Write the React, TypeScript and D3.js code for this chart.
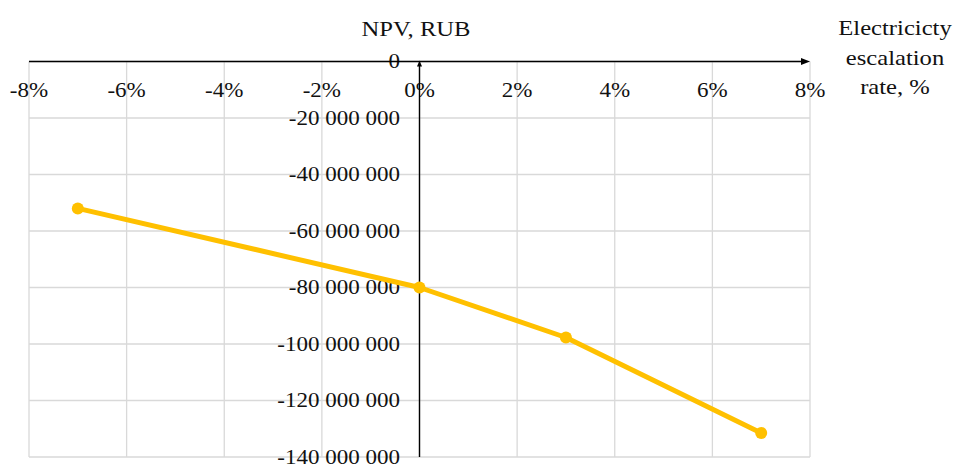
import React from "react";
import * as d3 from "d3";

const rates = [-0.07, 0.0, 0.03, 0.07];
const npv = [-52000000, -80000000, -97700000, -131500000];
const xTicks = [-0.08, -0.06, -0.04, -0.02, 0, 0.02, 0.04, 0.06, 0.08];
const yTicks = [0, -20000000, -40000000, -60000000, -80000000, -100000000, -120000000, -140000000];
const yTitle = "NPV, RUB";
const xTitleLines = ["Electricicty", "escalation", "rate, %"];

const W = 960;
const H = 466;

const fmtY = (v: number) => {
  if (v === 0) return "0";
  const s = Math.abs(v).toString().replace(/\B(?=(\d{3})+(?!\d))/g, " ");
  return "-" + s;
};
const fmtX = (v: number) => `${Math.round(v * 100)}%`;

export default function App() {
  const x = d3.scaleLinear().domain([-0.08, 0.08]).range([29, 810]);
  const y = d3.scaleLinear().domain([-140000000, 0]).range([457, 61.5]);
  const line = d3
    .line<number>()
    .x((_, i) => x(rates[i]))
    .y((d) => y(d));
  const font = "'Liberation Serif', 'Times New Roman', serif";
  const T = (props: { x: number; y: number; size: number; sx: number; anchor: string; children: React.ReactNode; dy?: string }) => (
    <text
      transform={`translate(${props.x},${props.y}) scale(${props.sx},1)`}
      fontSize={props.size}
      textAnchor={props.anchor as any}
      dy={props.dy}
      fill="#111"
      fontFamily={font}
    >
      {props.children}
    </text>
  );
  return (
    <svg width={W} height={H} style={{ position: "absolute", left: 0, top: 0, background: "#fff" }}>
      <rect width={W} height={H} fill="#fff" />
      {/* grid */}
      {xTicks.map((t) => (
        <line key={"gx" + t} x1={x(t)} x2={x(t)} y1={y(0)} y2={y(-140000000)} stroke="#d9d9d9" strokeWidth={1.3} />
      ))}
      {yTicks.map((t) => (
        <line key={"gy" + t} x1={x(-0.08)} x2={x(0.08)} y1={y(t)} y2={y(t)} stroke="#d9d9d9" strokeWidth={1.3} />
      ))}
      {/* x tick labels */}
      {xTicks.map((t) => (
        <T key={"lx" + t} x={x(t)} y={96.5} size={20} sx={1.15} anchor="middle">
          {fmtX(t)}
        </T>
      ))}
      {/* y tick labels */}
      {yTicks.map((t) => (
        <T key={"ly" + t} x={400} y={y(t)} size={20} sx={1.15} anchor="end" dy="0.34em">
          {fmtY(t)}
        </T>
      ))}
      {/* axes */}
      <line x1={x(-0.08)} x2={x(0.08) - 4} y1={y(0)} y2={y(0)} stroke="#000" strokeWidth={1.6} />
      <path d={`M${x(0.08)},${y(0)} l-9,-3.5 l0,7 z`} fill="#000" />
      <line x1={x(0)} x2={x(0)} y1={y(0) + 3} y2={y(-140000000)} stroke="#000" strokeWidth={1.4} />
      <path d={`M${x(0)},${y(0) - 1} l-2.5,6 l5,0 z`} fill="#000" />
      {/* series */}
      <path d={line(npv) || ""} fill="none" stroke="#FFC000" strokeWidth={5} strokeLinejoin="round" />
      {npv.map((v, i) => (
        <circle key={"p" + i} cx={x(rates[i])} cy={y(v)} r={6} fill="#FFC000" />
      ))}
      {/* titles */}
      <T x={416} y={36} size={22} sx={1.12} anchor="middle">
        {yTitle}
      </T>
      {xTitleLines.map((s, i) => (
        <T key={s} x={895} y={35 + i * 29.5} size={22} sx={1.12} anchor="middle">
          {s}
        </T>
      ))}
    </svg>
  );
}
